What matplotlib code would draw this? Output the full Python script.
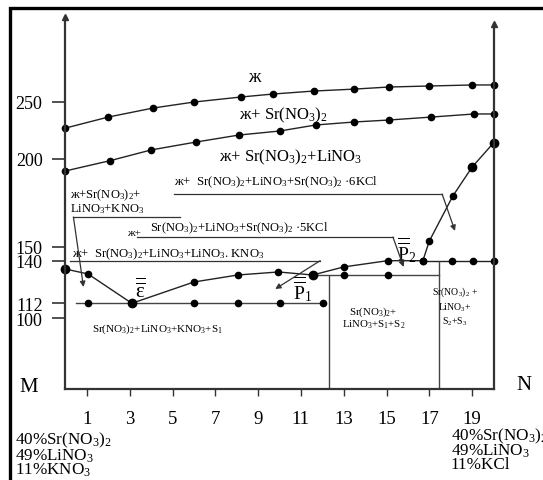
import numpy as np
import matplotlib
matplotlib.use('Agg')
import matplotlib.pyplot as plt

# Phase diagram M-N of the Sr(NO3)2-LiNO3-KNO3-KCl system

plt.rcParams['font.family'] = ['Liberation Serif', 'DejaVu Serif']
plt.rcParams['mathtext.fontset'] = 'custom'
plt.rcParams['mathtext.rm'] = 'Liberation Serif'
plt.rcParams['mathtext.it'] = 'Liberation Serif:italic'
plt.rcParams['mathtext.default'] = 'regular'

# liquidus, ж / ж+Sr(NO3)2
x_liq1 = [0, 2, 4.1, 6, 8.2, 9.7, 11.6, 13.5, 15.1, 17, 19, 20]
t_liq1 = [227, 236.6, 244.5, 249.7, 254.1, 256.7, 259.3, 261, 262.8, 263.7, 264.6, 264.6]
# ж+Sr(NO3)2 / ж+Sr(NO3)2+LiNO3
x_liq2 = [0, 2.1, 4, 6.1, 8.1, 10, 11.7, 13.5, 15.1, 17.1, 19.1, 20]
t_liq2 = [193.2, 199.1, 207.9, 214.8, 220.9, 224.4, 229.7, 232.3, 234, 236.6, 239.3, 239.3]
# branch rising from P2 to the N side
x_kcl = [16.7, 17, 18.1, 19, 20]
t_kcl = [140, 153.2, 178.9, 195.4, 214]
# eutectic branches around epsilon
x_eut_l = [0, 1.05, 3.1]
t_eut_l = [134.5, 131.3, 112]
x_eut_r = [3.1, 6, 8.05, 9.95, 11.55]
t_eut_r = [112, 126, 130.6, 132.6, 130.6]
# P1 -> P2
x_per = [11.55, 13, 15.05, 16.7]
t_per = [130.6, 135.9, 140, 140]
# horizontal at 140 from P2 to N
x_p2 = [16.7, 18.05, 19.05, 20]
t_p2 = [140, 140, 140, 140]
# solidus at P1 level
x_s12 = [11.55, 13, 15.05, 17.45]
t_s12 = [130.6, 130.6, 130.6, 130.6]
# solidus at 112
x_s1 = [0.47, 1.05, 3.1, 6, 8.05, 10, 12.05]
t_s1 = [112, 112, 112, 112, 112, 112, 112]
# vertical boundaries of the subsolidus fields
x_vert = [12.3, 17.45]
t_vert_top = [130.6, 140]

x_ticks = [1, 3, 5, 7, 9, 11, 13, 15, 17, 19]
y_ticks = [100, 112, 140, 150, 200, 250]

# non-uniform temperature axis, as drawn in the original
T_KNOTS = [-200, 100, 112, 140, 150, 200, 250, 600]
H_KNOTS = [-213.3, 161.7, 176.7, 219.3, 233.3, 321.0, 378.3, 779.4]


def fwd(t):
    return np.interp(t, T_KNOTS, H_KNOTS)


def inv(h):
    return np.interp(h, H_KNOTS, T_KNOTS)


T_BASE = 43.4
T_TOP_L = 323.9
T_TOP_R = 317.8

fig = plt.figure(figsize=(5.43, 4.81), dpi=100)
ax = fig.add_axes([0, 0, 1, 1])
ax.set_yscale('function', functions=(fwd, inv))
ax.set_xlim(-65.5 / 21.4, (543 - 65.5) / 21.4)
ax.set_ylim(float(inv(0)), float(inv(481)))
ax.patch.set_visible(False)

line_kw = dict(color='#222222', lw=1.0, marker='o', ms=4.5, mfc='black', mec='black')
low_kw = dict(color='#444444', lw=1.0, marker='o', ms=4.5, mfc='black', mec='black')

ax.plot(x_liq1, t_liq1, **line_kw)
ax.plot(x_liq2, t_liq2, **line_kw)
ax.plot(x_kcl, t_kcl, markevery=[1, 2, 3, 4], **line_kw)
ax.plot(x_eut_l, t_eut_l, **line_kw)
ax.plot(x_eut_r, t_eut_r, **line_kw)
ax.plot(x_per, t_per, **line_kw)
ax.plot(x_p2, t_p2, **line_kw)
ax.plot(x_s12, t_s12, markevery=[1, 2], **low_kw)
ax.plot(x_s1, t_s1, markevery=[1, 3, 4, 5, 6], **low_kw)
ax.vlines(x_vert, T_BASE, t_vert_top, color='#444444', lw=1.0)

# bigger dots at some of the points
big_x = [x_eut_l[-1], x_eut_r[-1], x_kcl[-1], x_kcl[3], x_eut_l[0]]
big_t = [t_eut_l[-1], t_eut_r[-1], t_kcl[-1], t_kcl[3], t_eut_l[0]]
ax.plot(big_x, big_t, 'o', ms=6, color='black')

# axes drawn as in the sketch
ax.spines['top'].set_visible(False)
ax.spines['left'].set_position(('data', 0))
ax.spines['left'].set_bounds(T_BASE, T_TOP_L)
ax.spines['right'].set_position(('data', 20))
ax.spines['right'].set_bounds(T_BASE, T_TOP_R)
ax.spines['bottom'].set_position(('data', T_BASE))
ax.spines['bottom'].set_bounds(0, 20)
for s in ['left', 'right', 'bottom']:
    ax.spines[s].set_color('#333333')
    ax.spines[s].set_linewidth(1.6)
ax.plot([0], [T_TOP_L], marker='^', ms=5, color='#333333', clip_on=False)
ax.plot([20], [T_TOP_R], marker='^', ms=5, color='#333333', clip_on=False)

ax.set_yticks(y_ticks)
ax.set_yticklabels([str(v) for v in y_ticks], fontsize=13)
ax.yaxis.set_minor_locator(matplotlib.ticker.NullLocator())
ax.tick_params(axis='y', direction='out', length=9.5, width=1.2, color='#333333', pad=7)
ax.set_xticks(x_ticks)
ax.set_xticklabels([str(v) for v in x_ticks], fontsize=13.5)
ax.tick_params(axis='x', direction='out', length=5, width=1.0, color='#333333', pad=10)
ax.tick_params(axis='y', right=False, labelright=False)

# field labels
ax.text(8.8, 272.4, 'ж', fontsize=13, ha='center', va='center')
ax.text(10.2, 239.3, 'ж+ Sr(NO$_3$)$_2$', fontsize=12, ha='center', va='center')
ax.text(10.5, 202.6, 'ж+ Sr(NO$_3$)$_2$+LiNO$_3$', fontsize=12, ha='center', va='center')
ax.text(5.05, 187.5, 'ж+  Sr(NO$_3$)$_2$+LiNO$_3$+Sr(NO$_3$)$_2$ ·6KCl', fontsize=9.2,
        ha='left', va='center')
ax.text(2.9, 158.0, 'ж+', fontsize=8, ha='left', va='center')
ax.text(3.97, 161.2, 'Sr(NO$_3$)$_2$+LiNO$_3$+Sr(NO$_3$)$_2$ ·5KCl', fontsize=9,
        ha='left', va='center')
ax.text(0.3, 145.0, 'ж+  Sr(NO$_3$)$_2$+LiNO$_3$+LiNO$_3$. KNO$_3$', fontsize=9.1,
        ha='left', va='center')
ax.text(0.19, 176.0, 'ж+Sr(NO$_3$)$_2$+\nLiNO$_3$+KNO$_3$', fontsize=9, ha='left',
        va='center', linespacing=0.9)
ax.text(4.3, 92.2, 'Sr(NO$_3$)$_2$+LiNO$_3$+KNO$_3$+S$_1$', fontsize=8, ha='center', va='center')
ax.text(14.4, 101, 'Sr(NO$_3$)$_2$+\nLiNO$_3$+S$_1$+S$_2$', fontsize=7.8, ha='center',
        va='center', linespacing=1.0)
ax.text(18.2, 110, 'Sr(NO$_3$)$_2$ +\nLiNO$_3$+\nS$_2$+S$_3$', fontsize=7, ha='center',
        va='center', linespacing=1.2)

# invariant points
ax.text(3.5, 121.3, r'$\overline{\overline{\mathrm{ε}}}$', fontsize=15, ha='center', va='center')
ax.text(11.07, 122.0, r'$\overline{\overline{\mathrm{P}}}_1$', fontsize=14, ha='center', va='center')
ax.text(15.95, 148.0, r'$\overline{\overline{\mathrm{P}}}_2$', fontsize=14, ha='center', va='center')

# label leaders and arrows
arrow_kw = dict(arrowstyle='-|>', lw=0.9, color='#333333', mutation_scale=8, shrinkA=0, shrinkB=0)
leaders = [
    ((0.37, 5.37, 166.9), (0.84, 122.7)),
    ((5.05, 17.6, 180.0), (18.2, 159.0)),
    ((3.36, 15.3, 155.5), (15.8, 135.9)),
    ((0.23, 11.9, 140.0), (9.8, 121.4)),
]
for (xa, xb, tl), tip in leaders:
    ax.plot([xa, xb], [tl, tl], color='#333333', lw=0.9)
    start = (xa, tl) if tip[0] < xa + 1 else (xb, tl)
    ax.annotate('', xy=tip, xytext=start, arrowprops=arrow_kw)

ax.text(-1.73, 45.8, 'M', fontsize=15, ha='center', va='center')
ax.text(21.4, 47.0, 'N', fontsize=15, ha='center', va='center')

ax.text(-2.38, 10.5, '40%Sr(NO$_3$)$_2$\n49%LiNO$_3$\n11%KNO$_3$', fontsize=12.3, ha='left',
        va='top', linespacing=0.75)
ax.text(18.0, 14.0, '40%Sr(NO$_3$)$_2$\n49%LiNO$_3$\n11%KCl', fontsize=12.3, ha='left',
        va='top', linespacing=0.75)

# page frame (left and top edges are inside the picture)
fig.add_artist(plt.Rectangle((9.5 / 543, -0.1), 1.2, 1.1 - 8.5 / 481, transform=fig.transFigure,
                             fill=False, lw=2.4, color='black'))

fig.savefig('out.png', dpi=100)
